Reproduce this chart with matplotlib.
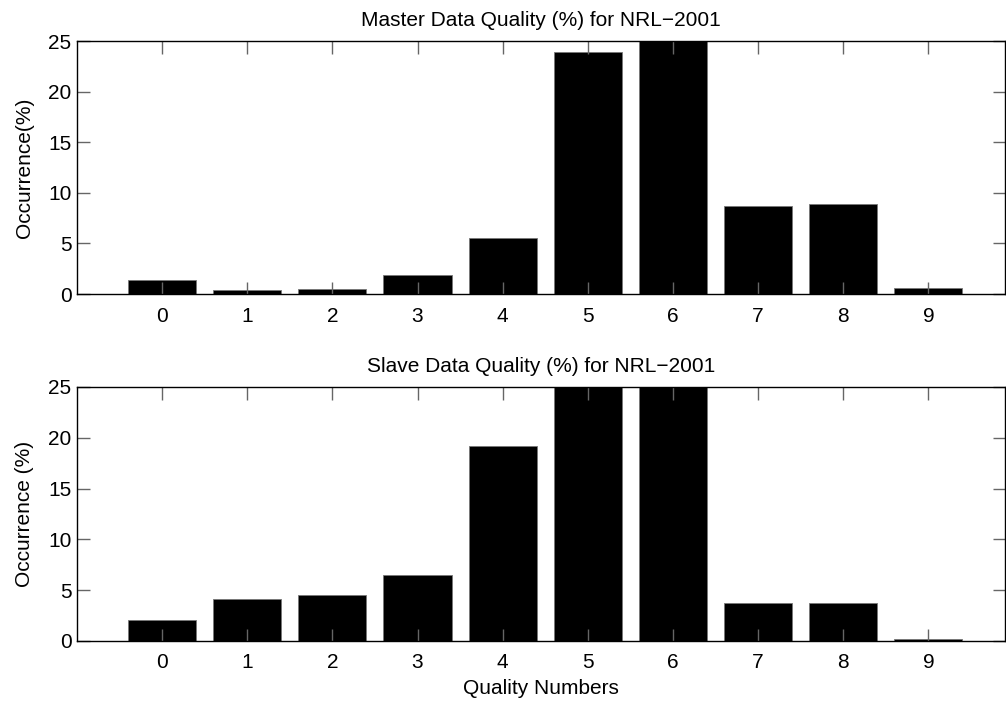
import numpy as np
import matplotlib
matplotlib.use('Agg')
import matplotlib.pyplot as plt

plt.rcParams['font.family'] = ['Liberation Sans', 'DejaVu Sans']

quality = [0, 1, 2, 3, 4, 5, 6, 7, 8, 9]
master_pct = [1.35, 0.36, 0.49, 1.88, 5.55, 23.9, 27.5, 8.7, 8.9, 0.56]
slave_pct = [2.05, 4.1, 4.5, 6.5, 19.2, 27.0, 26.5, 3.75, 3.75, 0.22]

titles = ['Master Data Quality (%) for NRL\u22122001',
          'Slave Data Quality (%) for NRL\u22122001']
ylabels = ['Occurrence(%)', 'Occurrence (%)']

W, H = 1006, 702
fig = plt.figure(figsize=(W / 100, H / 100), dpi=100)

# axes boxes in pixels: (left, top, right, bottom)
boxes = [(77, 41, 1005, 294), (77, 387, 1005, 641)]

for i, (vals, box) in enumerate(zip([master_pct, slave_pct], boxes)):
    l, t, r, b = box
    ax = fig.add_axes([l / W, 1 - b / H, (r - l) / W, (b - t) / H])
    ax.bar(quality, vals, width=0.8, color='black', edgecolor='#777777', linewidth=0.6)
    ax.set_xlim(-1.0, 9.9)
    ax.set_ylim(0, 25)
    ax.set_xticks(quality)
    ax.set_yticks([0, 5, 10, 15, 20, 25])
    ax.tick_params(direction='in', length=9, width=1.0, color='#666666',
                   top=True, right=True, labelsize=15, pad=4)
    ax.tick_params(axis='x', pad=9)
    for s in ax.spines.values():
        s.set_linewidth(1.0)
        s.set_color('black')
    ax.set_title(titles[i], fontsize=15, pad=11)
    ax.set_ylabel(ylabels[i], fontsize=15, labelpad=10)
    if i == 1:
        ax.set_xlabel('Quality Numbers', fontsize=15, labelpad=5)

fig.savefig('out.png', dpi=100)
